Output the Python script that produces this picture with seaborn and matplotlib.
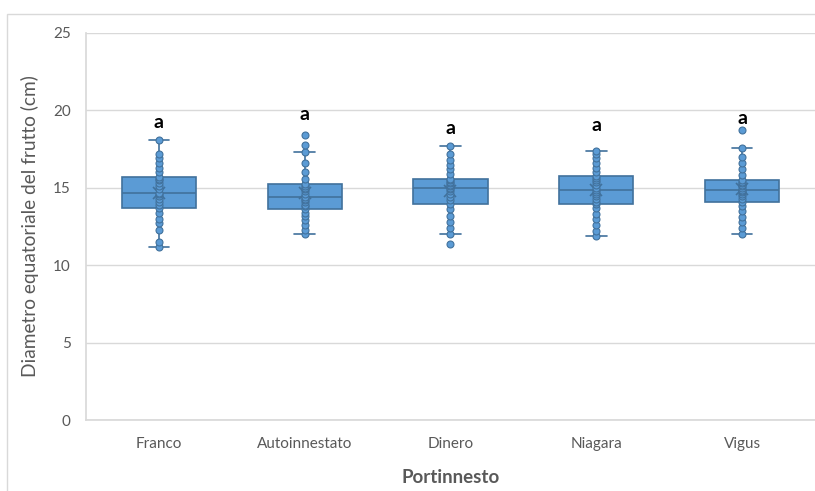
import numpy as np
import pandas as pd
import seaborn as sns
import matplotlib.pyplot as plt
from matplotlib.patches import Rectangle

# Rootstock groups and measured equatorial fruit diameters (cm)
categories = ["Franco", "Autoinnestato", "Dinero", "Niagara", "Vigus"]

franco = [11.2, 11.5, 12.3, 12.7, 13.0, 13.4, 13.7, 13.9, 14.1, 14.3, 14.5, 14.6, 14.65,
          14.9, 15.1, 15.3, 15.5, 15.6, 15.7, 16.0, 16.3, 16.6, 16.9, 17.2, 18.1]
autoinnestato = [12.0, 12.3, 12.6, 12.9, 13.2, 13.4, 13.6, 13.8, 13.9, 14.1, 14.2, 14.3, 14.4,
                 14.6, 14.8, 14.9, 15.0, 15.1, 15.22, 15.6, 16.0, 16.6, 17.3, 17.75, 18.4]
dinero = [11.4, 12.0, 12.4, 12.8, 13.2, 13.6, 13.97, 14.2, 14.4, 14.6, 14.8, 14.9, 15.0,
          15.1, 15.2, 15.3, 15.4, 15.5, 15.59, 15.9, 16.2, 16.5, 16.8, 17.2, 17.7]
niagara = [11.9, 12.2, 12.6, 13.0, 13.3, 13.7, 13.97, 14.1, 14.3, 14.5, 14.6, 14.75, 14.86,
           15.0, 15.2, 15.4, 15.5, 15.65, 15.76, 16.0, 16.3, 16.6, 16.9, 17.2, 17.4]
vigus = [12.02, 12.4, 12.8, 13.1, 13.5, 13.8, 14.1, 14.3, 14.5, 14.6, 14.7, 14.8, 14.86,
         15.0, 15.1, 15.2, 15.3, 15.4, 15.5, 15.8, 16.2, 16.6, 17.0, 17.55, 18.71]

# Significance letters and their heights above each box
letters = ["a", "a", "a", "a", "a"]
letter_y = [19.2, 19.75, 18.85, 19.0, 19.5]

series = [franco, autoinnestato, dinero, niagara, vigus]
df = pd.DataFrame({
    "Portinnesto": np.repeat(categories, [len(s) for s in series]),
    "Diametro": np.concatenate(series),
})

sns.set_theme(style="white")
plt.rcParams["font.family"] = ["Lato", "DejaVu Sans"]

fill = "#5B9BD5"
edge = "#41719C"
text_grey = "#595959"
grid_grey = "#D9D9D9"

fig = plt.figure(figsize=(8.15, 4.91), dpi=100)
ax = fig.add_axes([0.1055, 0.1446, 0.8945, 0.7882])

sns.boxplot(
    data=df, x="Portinnesto", y="Diametro", order=categories, ax=ax,
    color=fill, linecolor=edge, linewidth=1.2, width=0.51,
    showfliers=False, showmeans=True,
    meanprops=dict(marker="x", markeredgecolor=edge, markersize=8, markeredgewidth=1.2),
    capwidths=0.14, saturation=1,
)
sns.stripplot(
    data=df, x="Portinnesto", y="Diametro", order=categories, ax=ax,
    jitter=False, color=fill, edgecolor=edge, linewidth=0.8, size=5.0, zorder=4,
)

for i, (lab, yy) in enumerate(zip(letters, letter_y)):
    ax.text(i, yy, lab, ha="center", va="center", fontsize=14,
            fontweight="bold", color="black")

ax.set_ylim(0, 25)
ax.set_yticks([0, 5, 10, 15, 20, 25])
ax.set_xlim(-0.5, 4.5)
ax.yaxis.grid(True, color=grid_grey, linewidth=1)
ax.set_axisbelow(True)
for side in ["top", "right"]:
    ax.spines[side].set_visible(False)
ax.spines["left"].set_color(grid_grey)
ax.spines["bottom"].set_color(grid_grey)
ax.tick_params(axis="both", length=0, colors=text_grey, labelsize=11)
ax.tick_params(axis="y", pad=11)
ax.tick_params(axis="x", pad=12)

ax.set_ylabel("Diametro equatoriale del frutto (cm)", fontsize=13.8, color=text_grey, labelpad=10)
ax.set_xlabel("Portinnesto", fontsize=13.5, color=text_grey, fontweight="bold", labelpad=13)

# Light chart-area frame
fig.patches.append(Rectangle((7 / 815, -0.1), 1.2, 1.1 - 14 / 491, transform=fig.transFigure,
                             fill=False, edgecolor=grid_grey, linewidth=1, zorder=-1))

fig.savefig("out.png", dpi=100)
